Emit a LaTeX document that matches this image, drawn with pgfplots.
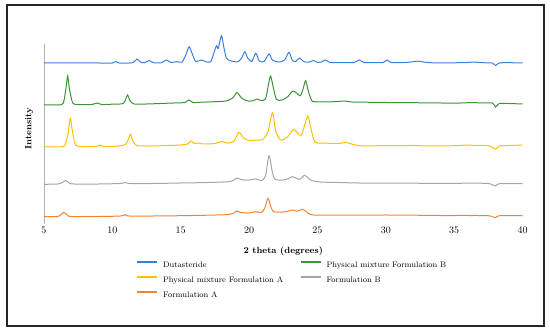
\documentclass[border=0pt]{standalone}
\usepackage{pgfplots}
\pgfplotsset{compat=1.18}
\definecolor{cBlue}{HTML}{3C7FDB}
\definecolor{cGreen}{HTML}{3F9337}
\definecolor{cYellow}{HTML}{FFC000}
\definecolor{cGray}{HTML}{A5A5A5}
\definecolor{cOrange}{HTML}{F58231}
\begin{document}
\begin{tikzpicture}
\useasboundingbox (0pt,0pt) rectangle (550pt,332pt);
\draw[line width=1.2pt, black!85] (7pt,6pt) rectangle (544pt,327pt);
\begin{axis}[
  at={(44pt,108pt)}, anchor=south west,
  scale only axis, width=478.5pt, height=180pt,
  xmin=5, xmax=40, ymin=0, ymax=180,
  clip=false,
  axis x line=bottom, axis y line=left,
  x axis line style={draw=none},
  y axis line style={-, draw=gray!60, line width=0.8pt},
  xtick={5,10,...,40}, ytick=\empty,
  major tick length=0pt,
  tick label style={font=\fontsize{10}{12}\selectfont},
  xlabel={\textbf{2 theta (degrees)}},
  xlabel style={font=\fontsize{9}{10}\selectfont, yshift=-6pt},
  ylabel={\textbf{Intensity}},
  ylabel style={font=\fontsize{9}{10}\selectfont, at={(axis description cs:-0.031,0.528)}, anchor=center},
  legend columns=2,
  legend cell align=left,
  legend style={draw=none, fill=none, font=\fontsize{8}{9.5}\selectfont,
    inner sep=0pt, outer sep=0pt,
    nodes={inner sep=2pt, text height=6pt, text depth=2pt},
    at={(axis description cs:0.1929,-0.195)}, anchor=north west,
    /tikz/every even column/.append style={column sep=14.6pt},
    row sep=3pt},
  legend image code/.code={\path (0pt,0pt) (23.4pt,0pt); \draw[#1, line width=2pt, sharp plot] (0pt,2.6pt) -- (20pt,2.6pt);},
  every axis plot/.append style={line width=1pt, smooth, tension=0.45},
]
\addplot[cBlue] coordinates {
(5,161) (7,161) (9,161) (10,161) (10.25,162.5) (10.5,161) (11.5,161.3) (11.8,165) (12.1,161.5) (12.4,161.5) (12.7,163.5) (13,161.3) (13.6,161.3) (13.95,164) (14.3,161.5) (14.7,162.3) (15.1,162) (15.4,170) (15.62,177.3) (15.85,170) (16.1,162.5) (16.5,164) (16.9,162) (17.2,162.5) (17.45,172) (17.62,178.3) (17.75,175.7) (17.98,188.3) (18.15,177) (18.35,165.7) (18.7,163) (19.2,162.3) (19.5,167) (19.69,172.3) (19.9,166) (20.2,162.5) (20.49,170.7) (20.75,163) (21.1,162.5) (21.46,170) (21.7,164) (22.2,162) (22.6,164) (22.92,171.7) (23.15,164) (23.4,162.5) (23.7,166) (24,162.3) (24.4,162) (24.7,163.5) (25,161.5) (25.3,162) (25.6,164) (25.9,161.5) (26.5,161.5) (27,161.3) (27.7,161.5) (28.05,164) (28.4,161.5) (29,161.3) (29.8,161.5) (30.1,164) (30.4,161.5) (31.5,161.5) (32.35,162.8) (33,161.5) (34,161) (35,161.2) (36,161.5) (36.5,162) (37,161.3) (37.8,161) (38.03,158.5) (38.3,161) (39,161.3) (40,161)
};
\addlegendentry{Dutasteride}
\addplot[cGreen] coordinates {
(5,119) (6,119.2) (6.4,120.5) (6.6,135) (6.73,148) (6.85,136) (7.1,121) (7.5,119.5) (8.5,119.5) (8.9,121) (9.2,119.5) (10,119.8) (10.8,120.5) (11.0,126) (11.12,129) (11.3,123) (11.6,120) (12.5,120) (13.5,120.5) (14.5,121) (15.3,121.5) (15.6,124) (15.9,121.5) (16.5,121.8) (17.5,122.3) (18.3,123) (18.8,126) (19.12,131.5) (19.45,126) (19.9,123) (20.3,123.3) (20.6,125) (20.85,123.5) (21.2,125) (21.4,138) (21.57,148) (21.75,138) (22,124.7) (22.4,124) (22.8,127) (23.22,133) (23.55,130) (23.75,128.3) (23.95,135) (24.14,143.3) (24.35,132) (24.6,123) (24.8,122.3) (25.5,122) (26.5,122.5) (27,123) (27.5,122) (28.5,121.8) (30,121.5) (32,121.3) (34,121) (35.5,121) (36.3,121.5) (37,121) (37.8,121) (38.03,117) (38.3,120.5) (39,120.5) (40,120)
};
\addlegendentry{Physical mixture Formulation B}
\addplot[cYellow] coordinates {
(5,77) (6,77.2) (6.5,78) (6.75,90) (6.92,105.7) (7.05,95) (7.3,79) (7.8,77.5) (8.8,77.5) (9.1,79) (9.4,77.5) (10.5,78) (11.0,80) (11.2,86) (11.33,89.7) (11.5,83) (11.8,78.5) (12.8,78) (14,78.5) (15,79) (15.5,80) (15.74,83) (16.0,80.5) (16.3,81) (16.6,80) (17.5,80.5) (18.06,82.5) (18.4,80.8) (18.9,83) (19.25,91.7) (19.6,86) (20,83.5) (20.5,84) (21,84.5) (21.4,93) (21.71,111.3) (21.95,93) (22.3,84) (22.8,87) (23.25,94.7) (23.6,90) (23.83,89) (24.05,98) (24.3,108) (24.5,97) (24.8,82.3) (25.3,81) (25.9,80.7) (26.5,80.5) (27.1,81.5) (27.5,80) (28.1,78.3) (30,78.3) (32,78.5) (33,78) (35,78.3) (36,79) (36.5,78.5) (37.5,78.3) (38.03,75) (38.3,78) (39,78.5) (40,79)
};
\addlegendentry{Physical mixture Formulation A}
\addplot[cGray] coordinates {
(5,39.7) (6,40) (6.35,41.5) (6.58,43.5) (6.85,41) (7.2,40) (9,40) (10.6,40.5) (10.92,41.5) (11.3,40.5) (13,40.5) (15,41) (17,41.5) (18.5,42.3) (18.9,44) (19.12,46) (19.4,44.5) (19.9,43.8) (20.5,45) (20.9,43.5) (21.2,48) (21.46,68.3) (21.7,52) (21.9,44.7) (22.5,44) (22.9,45.5) (23.17,47.3) (23.7,44.7) (24.07,48.7) (24.5,44) (25.2,42) (26.5,41.5) (28,41) (30,40.8) (32,40.8) (34,40.5) (36,40.8) (37.5,40.5) (38.03,38) (38.3,40.3) (40,40.3)
};
\addlegendentry{Formulation B}
\addplot[cOrange] coordinates {
(5,7.3) (6,7.5) (6.25,9.5) (6.45,11.7) (6.7,9) (7,7.5) (9,7.5) (10.6,8) (10.92,9.3) (11.2,8) (13,8) (15,8.3) (17,8.8) (18.5,9.5) (18.9,11) (19.1,13) (19.4,11.5) (20,11) (20.5,12.3) (20.9,11.5) (21.15,16) (21.39,25.7) (21.6,17) (21.8,12.3) (22.5,12) (22.9,13) (23.2,14) (23.5,12.8) (23.95,14.7) (24.3,11) (24.7,9) (26,8.8) (28,8.8) (30,9) (32,8.8) (34,8.5) (36,8.5) (37.5,8.3) (38.03,6.3) (38.3,8.3) (40,8.3)
};
\addlegendentry{Formulation A}
\end{axis}
\end{tikzpicture}
\end{document}
